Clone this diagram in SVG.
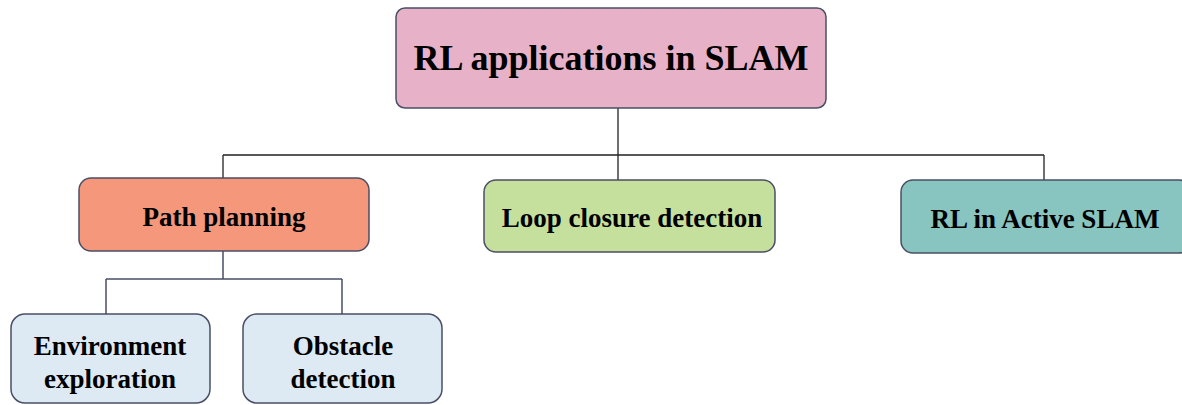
<svg xmlns="http://www.w3.org/2000/svg" width="1182" height="405" viewBox="0 0 1182 405">
<style>
.box{stroke:#4a4f66;stroke-width:1.5}
.t{font-family:"Liberation Serif","Times New Roman",serif;font-weight:bold;fill:#000;text-anchor:middle}
.c{fill:none;stroke:#222;stroke-width:1.3}
.c2{fill:none;stroke:#4a4f66;stroke-width:1.5}
</style>
<rect width="1182" height="405" fill="#fff"/>
<g id="connectors">
<path class="c" d="M618 108V180M223 155H1044M223 155V178M1044 155V180"/>
<path class="c2" d="M223 251V279M106 279H342M106 279V314M342 279V314"/>
</g>
<g id="root">
<rect class="box" x="396" y="8" width="430" height="100" rx="9" fill="#e7b2c8"/>
<text class="t" x="611" y="70" font-size="36">RL applications in SLAM</text>
</g>
<g id="path-planning">
<rect class="box" x="79" y="178" width="290" height="73" rx="12" fill="#f4977a"/>
<text class="t" x="224" y="226" font-size="27">Path planning</text>
</g>
<g id="loop-closure">
<rect class="box" x="484" y="180" width="291" height="72" rx="12" fill="#c5df9d"/>
<text class="t" x="632" y="227" font-size="27">Loop closure detection</text>
</g>
<g id="active-slam">
<rect class="box" x="901" y="180" width="290" height="73" rx="12" fill="#88c4c0"/>
<text class="t" x="1045" y="228" font-size="27">RL in Active SLAM</text>
</g>
<g id="env-exploration">
<rect class="box" x="11" y="314" width="199" height="89" rx="14" fill="#dde9f3"/>
<text class="t" x="110" y="355" font-size="27">Environment</text>
<text class="t" x="110" y="388" font-size="27">exploration</text>
</g>
<g id="obstacle-detection">
<rect class="box" x="243" y="314" width="199" height="89" rx="14" fill="#dde9f3"/>
<text class="t" x="343" y="355" font-size="27">Obstacle</text>
<text class="t" x="343" y="388" font-size="27">detection</text>
</g>
</svg>
